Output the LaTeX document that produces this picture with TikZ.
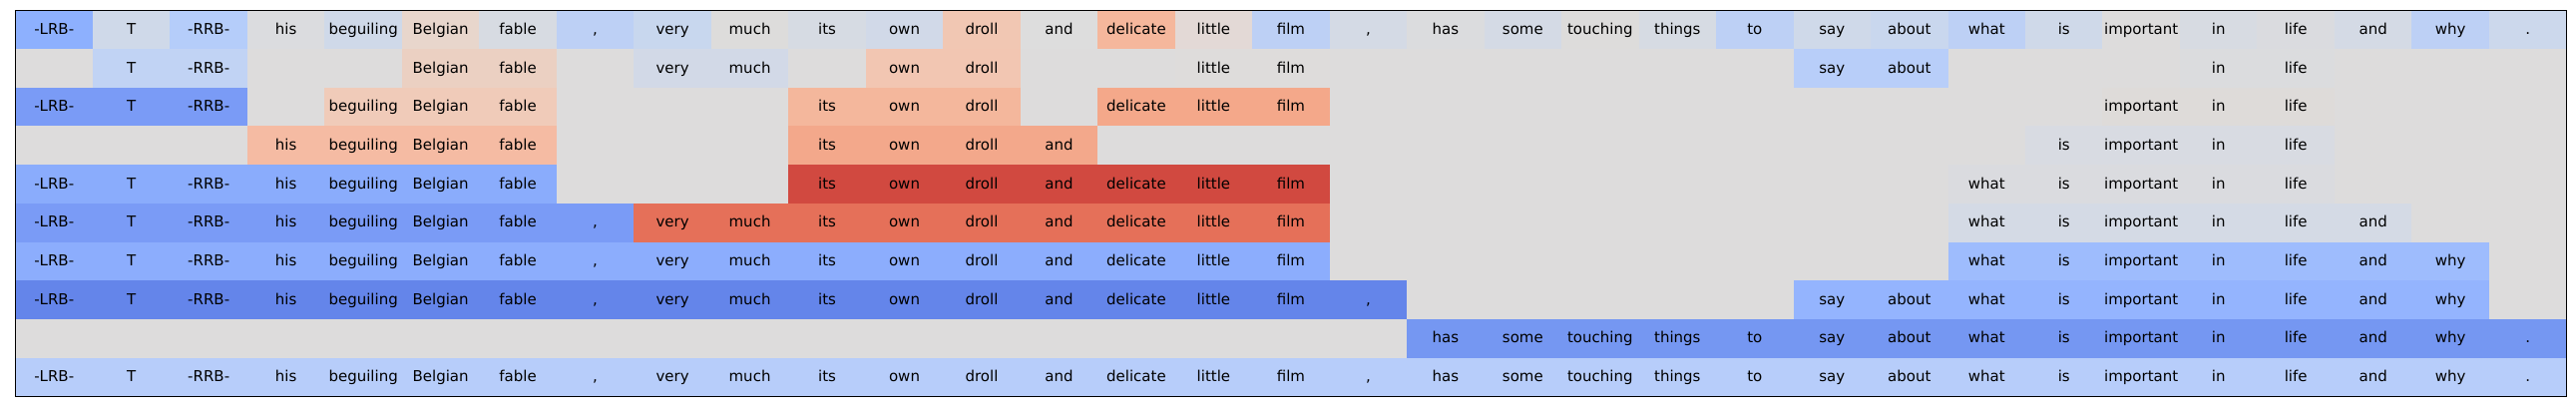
\documentclass[tikz,border=0pt]{standalone}
\usepackage{fontspec}
\setmainfont{DejaVu Sans}
\def\gx{15.5}\def\gy{10.3}\def\cw{77.48}\def\rh{38.7}
\newcommand\W[2]{\expandafter\def\csname w#1\endcsname{#2}}
\W{1}{-LRB-}\W{2}{T}\W{3}{-RRB-}\W{4}{his}\W{5}{beguiling}\W{6}{Belgian}\W{7}{fable}\W{8}{,}\W{9}{very}\W{10}{much}\W{11}{its}
\W{12}{own}\W{13}{droll}\W{14}{and}\W{15}{delicate}\W{16}{little}\W{17}{film}\W{18}{,}\W{19}{has}\W{20}{some}\W{21}{touching}\W{22}{things}
\W{23}{to}\W{24}{say}\W{25}{about}\W{26}{what}\W{27}{is}\W{28}{important}\W{29}{in}\W{30}{life}\W{31}{and}\W{32}{why}\W{33}{.}
\newcommand\seg[4]{%
  \fill[#4] ({\gx+(#2-1)*\cw},{\gy+(#1-1)*\rh}) rectangle ({\gx+#3*\cw},{\gy+#1*\rh});
  \foreach \c in {#2,...,#3}{\node[wordlbl] (r#1c\c) at ({\gx+(\c-0.5)*\cw},{\gy+(#1-0.5)*\rh+4.7}) {\csname w\c\endcsname};}%
}
\definecolor{bg}{RGB}{221,220,220}
% row 1
\definecolor{a1}{RGB}{141,176,254}\definecolor{a2}{RGB}{207,217,233}\definecolor{a3}{RGB}{181,205,250}
\definecolor{a4}{RGB}{219,220,223}\definecolor{a5}{RGB}{207,217,233}\definecolor{a6}{RGB}{232,214,204}
\definecolor{a7}{RGB}{215,219,226}\definecolor{a8}{RGB}{189,208,245}\definecolor{a9}{RGB}{200,215,238}
\definecolor{a10}{RGB}{221,220,219}\definecolor{a11}{RGB}{214,219,227}\definecolor{a12}{RGB}{209,217,232}
\definecolor{a13}{RGB}{241,199,179}\definecolor{a14}{RGB}{221,221,221}\definecolor{a15}{RGB}{245,183,156}
\definecolor{a16}{RGB}{227,217,214}\definecolor{a17}{RGB}{189,208,245}\definecolor{a18}{RGB}{212,218,229}
\definecolor{a19}{RGB}{219,220,222}\definecolor{a20}{RGB}{212,218,229}\definecolor{a21}{RGB}{221,220,219}
\definecolor{a22}{RGB}{214,219,227}\definecolor{a23}{RGB}{189,208,245}\definecolor{a24}{RGB}{207,217,233}
\definecolor{a25}{RGB}{201,215,238}\definecolor{a26}{RGB}{189,208,245}\definecolor{a27}{RGB}{207,217,233}
\definecolor{a28}{RGB}{221,220,220}\definecolor{a29}{RGB}{215,219,226}\definecolor{a30}{RGB}{218,219,223}
\definecolor{a31}{RGB}{212,218,229}\definecolor{a32}{RGB}{189,208,245}\definecolor{a33}{RGB}{204,216,236}
% rows 2-10
\definecolor{b1}{RGB}{193,211,244}\definecolor{b2}{RGB}{235,208,194}\definecolor{b3}{RGB}{210,217,231}
\definecolor{b4}{RGB}{242,198,178}\definecolor{b5}{RGB}{222,220,219}\definecolor{b6}{RGB}{184,206,249}
\definecolor{b7}{RGB}{219,220,222}
\definecolor{c1}{RGB}{122,155,246}\definecolor{c2}{RGB}{240,203,185}\definecolor{c3}{RGB}{244,183,156}
\definecolor{c4}{RGB}{244,168,138}\definecolor{c5}{RGB}{222,219,217}
\definecolor{d1}{RGB}{245,187,163}\definecolor{d2}{RGB}{243,168,139}\definecolor{d3}{RGB}{216,219,226}
\definecolor{e1}{RGB}{138,172,252}\definecolor{e2}{RGB}{209,73,64}\definecolor{e3}{RGB}{218,219,223}
\definecolor{f1}{RGB}{122,155,246}\definecolor{f2}{RGB}{229,112,89}\definecolor{f3}{RGB}{212,218,229}
\definecolor{g1}{RGB}{140,173,253}\definecolor{g2}{RGB}{158,188,253}
\definecolor{h1}{RGB}{100,133,234}\definecolor{h2}{RGB}{148,180,254}
\definecolor{i1}{RGB}{117,151,242}
\definecolor{j1}{RGB}{183,205,250}
\begin{document}
\begin{tikzpicture}[x=1pt,y=-1pt,
  wordlbl/.style={anchor=base,inner sep=0pt,text=black,font=\fontsize{15}{18}\selectfont}]
\fill[white] (0,0) rectangle (2582,412);
\useasboundingbox (0,0) rectangle (2582,412);
\fill[bg] (\gx,\gy) rectangle ({\gx+33*\cw},{\gy+10*\rh});
% row 1
\foreach \k in {1,...,33}{\seg{1}{\k}{\k}{a\k}}
% row 2
\seg{2}{2}{3}{b1}\seg{2}{6}{7}{b2}\seg{2}{9}{10}{b3}\seg{2}{12}{13}{b4}\seg{2}{16}{17}{b5}\seg{2}{24}{25}{b6}\seg{2}{29}{30}{b7}
% row 3
\seg{3}{1}{3}{c1}\seg{3}{5}{7}{c2}\seg{3}{11}{13}{c3}\seg{3}{15}{17}{c4}\seg{3}{28}{30}{c5}
% row 4
\seg{4}{4}{7}{d1}\seg{4}{11}{14}{d2}\seg{4}{27}{30}{d3}
% row 5
\seg{5}{1}{7}{e1}\seg{5}{11}{17}{e2}\seg{5}{26}{30}{e3}
% row 6
\seg{6}{1}{8}{f1}\seg{6}{9}{17}{f2}\seg{6}{26}{31}{f3}
% row 7
\seg{7}{1}{17}{g1}\seg{7}{26}{32}{g2}
% row 8
\seg{8}{1}{18}{h1}\seg{8}{24}{32}{h2}
% row 9
\seg{9}{19}{33}{i1}
% row 10
\seg{10}{1}{33}{j1}
\draw[black,line width=1.3pt] (\gx,\gy) rectangle ({\gx+33*\cw},{\gy+10*\rh});
\end{tikzpicture}
\end{document}
